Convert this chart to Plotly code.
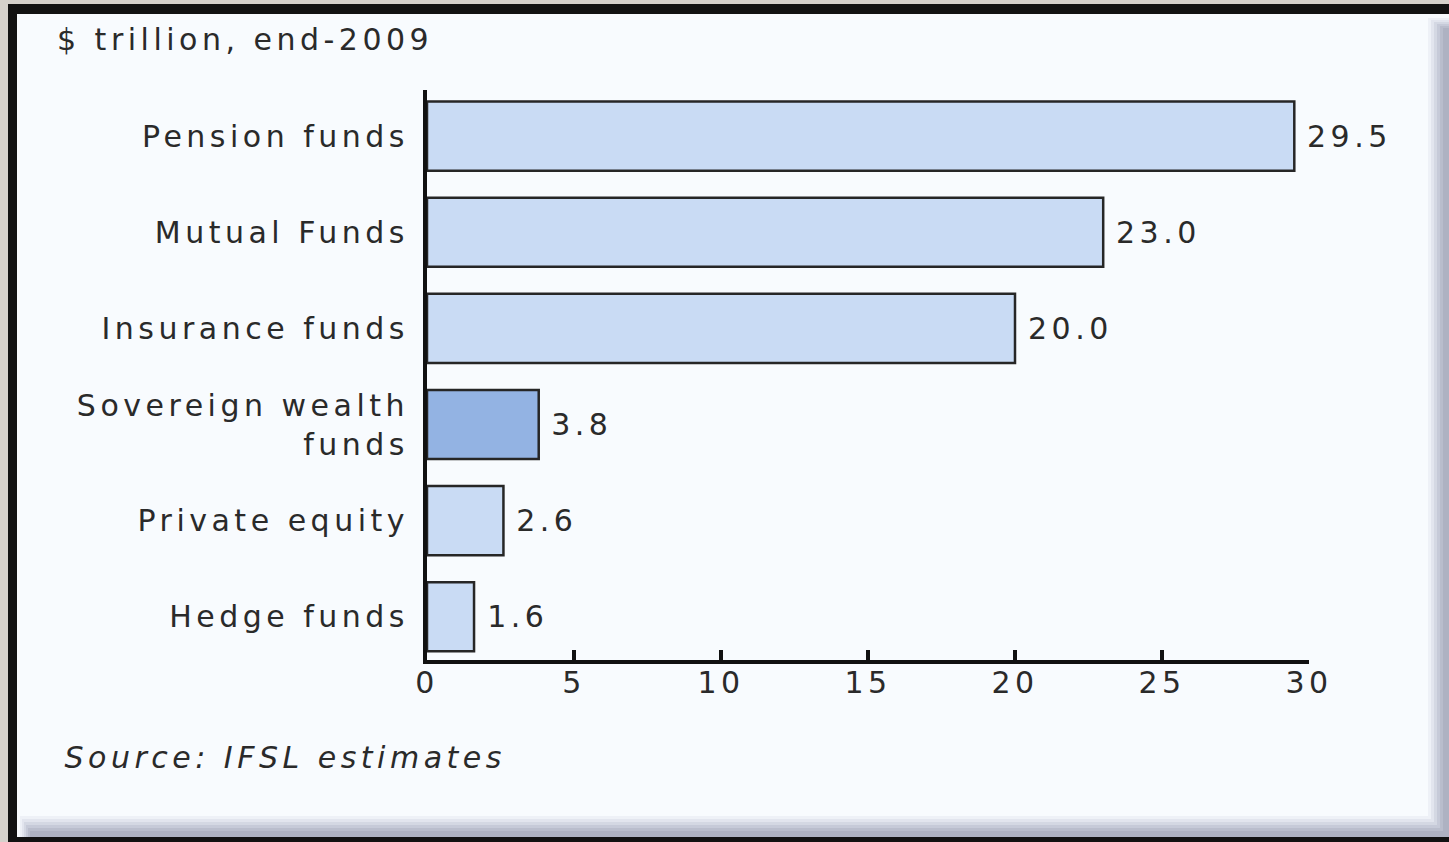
import plotly.graph_objects as go

# Assets under management by fund type ($ trillion, end-2009)
categories = ["Pension funds", "Mutual Funds", "Insurance funds",
              "Sovereign wealth<br>funds", "Private equity", "Hedge funds"]
values = [29.5, 23.0, 20.0, 3.8, 2.6, 1.6]
value_labels = ["29.5", "23.0", "20.0", "3.8", "2.6", "1.6"]
highlight = "Sovereign wealth<br>funds"
x_ticks = [0, 5, 10, 15, 20, 25, 30]
title_text = "$ trillion, end-2009"
source_text = "Source: IFSL estimates"

W, H = 1449, 842
ML, MR, MT, MB = 427, 140, 90, 182
PW, PH = W - ML - MR, H - MT - MB

TXT = "#2a2a2a"
FONT = "DejaVu Sans"
FS = 30
LS = 4.5  # letter spacing (px) applied to all svg text


def px_x(px):
    return (px - ML) / PW


def px_y(py):
    return (H - MB - py) / PH


def spread(text):
    # annotation text is centred, so widening it pushes the left edge out by half
    return len(text) * LS / 2


bar_colors = ["#93b3e3" if c == highlight else "#c9dbf4" for c in categories]

fig = go.Figure()
fig.add_trace(go.Bar(
    y=categories, x=values, orientation="h",
    width=0.72,
    marker=dict(color=bar_colors, line=dict(color="#262626", width=2.5)),
    hoverinfo="skip",
))

# value labels next to each bar end
annotations = []
for c, v, t in zip(categories, values, value_labels):
    annotations.append(dict(x=v, y=c, xref="x", yref="y", text=t,
                            showarrow=False, xanchor="left", yanchor="middle",
                            xshift=11 + spread(t),
                            font=dict(family=FONT, size=FS, color=TXT)))

annotations.append(dict(x=px_x(55), y=px_y(40), xref="paper", yref="paper",
                        text=title_text, showarrow=False,
                        xanchor="left", yanchor="middle", xshift=spread(title_text),
                        font=dict(family=FONT, size=FS, color=TXT)))
annotations.append(dict(x=px_x(62), y=px_y(757), xref="paper", yref="paper",
                        text="<i>" + source_text + "</i>", showarrow=False,
                        xanchor="left", yanchor="middle", xshift=spread(source_text),
                        font=dict(family=FONT, size=FS, color=TXT)))

# framed panel: dark border, light panel, shaded bevel on right and bottom
shapes = [
    dict(type="rect", xref="paper", yref="paper", layer="below",
         x0=px_x(8), x1=px_x(W + 5), y0=px_y(H + 5), y1=px_y(4),
         fillcolor="#121212", line=dict(width=0)),
    dict(type="rect", xref="paper", yref="paper", layer="below",
         x0=px_x(17), x1=px_x(W + 5), y0=px_y(837), y1=px_y(14),
         fillcolor="#f8fbfe", line=dict(width=0)),
]
bevel = ["#eef1f7", "#e2e5ee", "#d4d8e3", "#c6cad8", "#b9bdcc", "#aeb2c2"]
for i, col in enumerate(bevel):
    shapes.append(dict(type="rect", xref="paper", yref="paper", layer="below",
                       x0=px_x(1428 + 3 * i), x1=px_x(W + 5),
                       y0=px_y(837), y1=px_y(18 + 2 * i),
                       fillcolor=col, line=dict(width=0)))
    shapes.append(dict(type="rect", xref="paper", yref="paper", layer="below",
                       x0=px_x(20 + 2 * i), x1=px_x(1428 + 3 * i),
                       y0=px_y(837), y1=px_y(816 + 3 * i),
                       fillcolor=col, line=dict(width=0)))

fig.update_layout(
    width=W, height=H,
    margin=dict(l=ML, r=MR, t=MT, b=MB, pad=0),
    paper_bgcolor="#d5d1cb",
    plot_bgcolor="rgba(0,0,0,0)",
    showlegend=False,
    annotations=annotations,
    shapes=shapes,
    font=dict(family=FONT, size=FS, color=TXT),
    xaxis=dict(range=[0, 30], tickvals=x_ticks, ticktext=[str(t) for t in x_ticks],
               showgrid=False, zeroline=False,
               showline=True, linecolor="#111111", linewidth=4,
               ticks="inside", ticklen=10, tickwidth=4, tickcolor="#111111",
               ticklabelstandoff=-7,
               tickfont=dict(family=FONT, size=FS, color=TXT)),
    yaxis=dict(categoryorder="array", categoryarray=categories,
               range=[5.45, -0.48], showgrid=False, zeroline=False,
               showline=True, linecolor="#111111", linewidth=4,
               ticks="", ticklabelstandoff=8,
               tickfont=dict(family=FONT, size=FS, color=TXT)),
)

spacing = ("document.querySelectorAll('svg text').forEach(function(t){"
           "t.style.letterSpacing='%spx';});" % LS)
fig.write_html("out.html", post_script=spacing)
